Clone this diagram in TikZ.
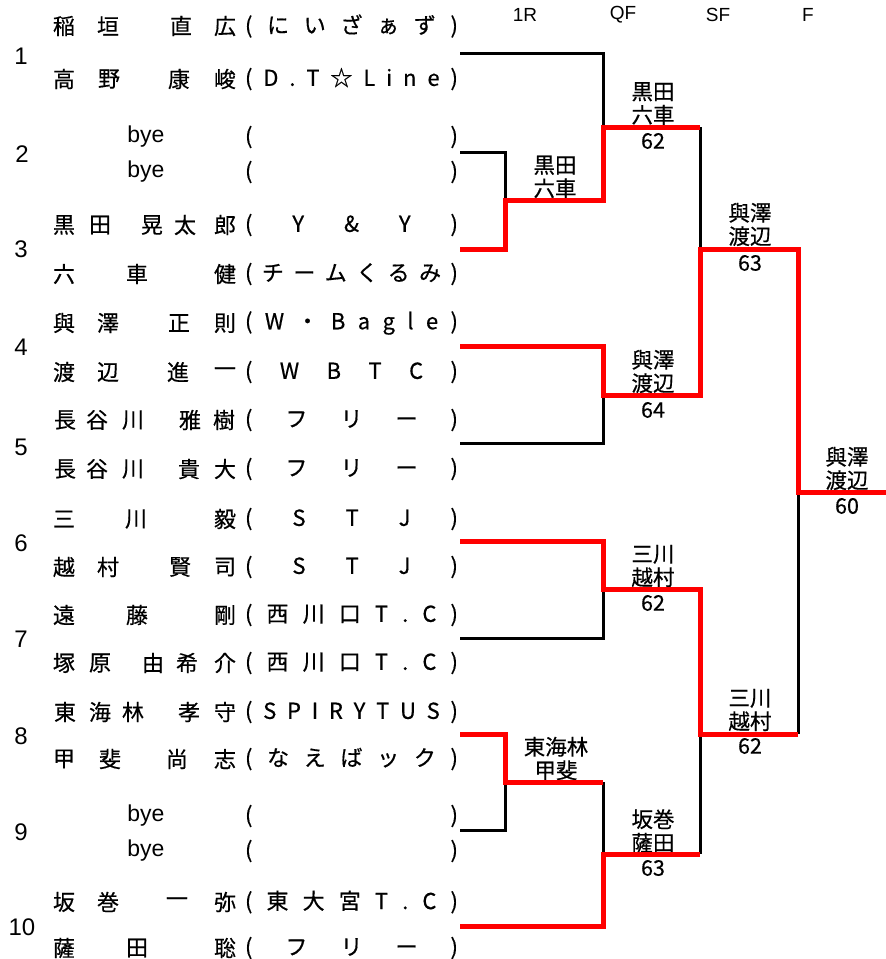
\documentclass[tikz,border=0pt]{standalone}
\usepackage{fontspec}
\newfontfamily\jp[FakeBold=0.5]{Noto Sans CJK JP}
\newfontfamily\lat{Liberation Sans}
\def\spreadA#1{\ifx#1\relax\else\hfill#1\expandafter\spreadA\fi}
\newcommand\team[1]{\makebox[213pt][s]{(\spreadA#1\relax\hfill)}}
\newcommand\nrow[4]{%
  \foreach \xx/\cc in {#3} {\node[nm] (#1-\xx) at (\xx,#2) {\cc};}
  \node[nm] (#1-t) at (351.5,#2) {\team{#4}};
}
\newcommand\byerow[2]{%
  \node[bye] (#1-n) at (146,#2) {bye};
  \node[nm] (#1-t) at (351.5,#2) {\team{}};
}
\begin{document}
\begin{tikzpicture}[x=1pt,y=-1pt,
  nm/.style={inner sep=0pt, font=\jp\fontsize{22}{26}\selectfont},
  bye/.style={inner sep=0pt, font=\lat\fontsize{23}{26}\selectfont},
  seed/.style={inner sep=0pt, font=\lat\fontsize{24}{26}\selectfont},
  hd/.style={inner sep=0pt, font=\lat\fontsize{19}{22}\selectfont},
  lbl/.style={inner sep=0pt, align=center, font=\jp\fontsize{21.5}{23.5}\selectfont},
  score/.style={inner sep=0pt, font=\jp\fontsize{21.5}{24}\selectfont},
  blk/.style={draw=black, line width=3pt},
  win/.style={draw=red, line width=5pt}]
\useasboundingbox[fill=white] (0,0) rectangle (886,959);

% column headers
\node[hd] (h1) at (525,15) {1R};
\node[hd] (h2) at (623,15) {QF};
\node[hd] (h3) at (718,15) {SF};
\node[hd] (h4) at (808,15) {F};

% seed numbers
\node[seed] (k1) at (21,56) {1};
\node[seed] (k2) at (22,154) {2};
\node[seed] (k3) at (21,249) {3};
\node[seed] (k4) at (21,347) {4};
\node[seed] (k5) at (21,447) {5};
\node[seed] (k6) at (21,543) {6};
\node[seed] (k7) at (21,639) {7};
\node[seed] (k8) at (21,736) {8};
\node[seed] (k9) at (21,832) {9};
\node[seed] (k10) at (22,927) {10};

% players
\nrow{r1a}{26}{64/稲,108/垣,181/直,225/広}{にいざぁず}
\nrow{r1b}{79}{64/高,109/野,179/康,225/峻}{D.T☆Line}
\byerow{r2a}{137}
\byerow{r2b}{172}
\nrow{r3a}{225}{64/黒,100/田,152/晃,185/太,225/郎}{Y\&Y}
\nrow{r3b}{274}{64/六,137/車,225/健}{チームくるみ}
\nrow{r4a}{323}{64/與,108/澤,179/正,225/則}{W・Bagle}
\nrow{r4b}{372}{64/渡,108/辺,178/進,225/一}{WBTC}
\nrow{r5a}{420}{65/長,97/谷,133/川,190/雅,224/樹}{フリー}
\nrow{r5b}{469}{65/長,97/谷,133/川,189/貴,225/大}{フリー}
\nrow{r6a}{519}{64/三,136/川,225/毅}{STJ}
\nrow{r6b}{567}{64/越,108/村,180/賢,225/司}{STJ}
\nrow{r7a}{615}{64/遠,137/藤,225/剛}{西川口T.C}
\nrow{r7b}{663}{64/塚,100/原,153/由,187/希,225/介}{西川口T.C}
\nrow{r8a}{712}{65/東,100/海,133/林,189/孝,225/守}{SPIRYTUS}
\nrow{r8b}{759}{64/甲,110/斐,177/尚,225/志}{なえばック}
\byerow{r9a}{816}
\byerow{r9b}{851}
\nrow{r10a}{902}{64/坂,108/巻,177/一,225/弥}{東大宮T.C}
\nrow{r10b}{948}{64/薩,137/田,225/聡}{フリー}

% result labels
\node[lbl] (w1a) at (555,177) {黒田\\六車};
\node[lbl] (wq1) at (653,103.5) {黒田\\六車};
\node[score] (sq1) at (653,141) {62};
\node[lbl] (ws1) at (750,224.5) {與澤\\渡辺};
\node[score] (ss1) at (750,263) {63};
\node[lbl] (wq2) at (653,371.5) {與澤\\渡辺};
\node[score] (sq2) at (653,410) {64};
\node[lbl] (wf) at (847,468.5) {與澤\\渡辺};
\node[score] (sf) at (847,506) {60};
\node[lbl] (wq3) at (653,566) {三川\\越村};
\node[score] (sq3) at (653,603) {62};
\node[lbl] (ws2) at (750,710) {三川\\越村};
\node[score] (ss2) at (750,746) {62};
\node[lbl] (w1b) at (556,758.5) {東海林\\甲斐};
\node[lbl] (wq4) at (653,831) {坂巻\\薩田};
\node[score] (sq4) at (653,868) {63};

% bracket coordinates
\coordinate (e1) at (460,53);
\coordinate (e2) at (460,152);
\coordinate (e3) at (460,249);
\coordinate (e4) at (460,346);
\coordinate (e5) at (460,443);
\coordinate (e6) at (460,541);
\coordinate (e7) at (460,638);
\coordinate (e8) at (460,734);
\coordinate (e9) at (460,830);
\coordinate (e10) at (460,926);
\coordinate (a1) at (505,200);
\coordinate (a2) at (505,782);
\coordinate (q1) at (603,127);
\coordinate (q1r) at (700,127);
\coordinate (q2) at (603,395);
\coordinate (q3) at (603,589);
\coordinate (q4t) at (603,782);
\coordinate (q4) at (603,854);
\coordinate (q4r) at (700,854);
\coordinate (s1) at (700,249);
\coordinate (s2) at (700,734);
\coordinate (s2r) at (798,734);
\coordinate (fin) at (798,492);
\coordinate (fend) at (886,492);

% losing lines
\draw[blk] (e1) -| (q1);
\draw[blk] (e2) -| (a1);
\draw[blk] (q1r) -- (s1);
\draw[blk] (e5) -| (q2);
\draw[blk] (s2r) -- (fin);
\draw[blk] (e7) -| (q3);
\draw[blk] (q4t) -- (q4);
\draw[blk] (e9) -| (a2);
\draw[blk] (q4r) -- (s2);

% winning lines
\draw[win] (e3) -| (a1) -| (q1) -- (q1r);
\draw[win] (e4) -| (q2) -| (s1) -| (fin) -- (fend);
\draw[win] (e6) -| (q3) -| (s2) -- (s2r);
\draw[win] (e8) -| (a2) -- (q4t);
\draw[win] (e10) -| (q4) -- (q4r);
\end{tikzpicture}
\end{document}
